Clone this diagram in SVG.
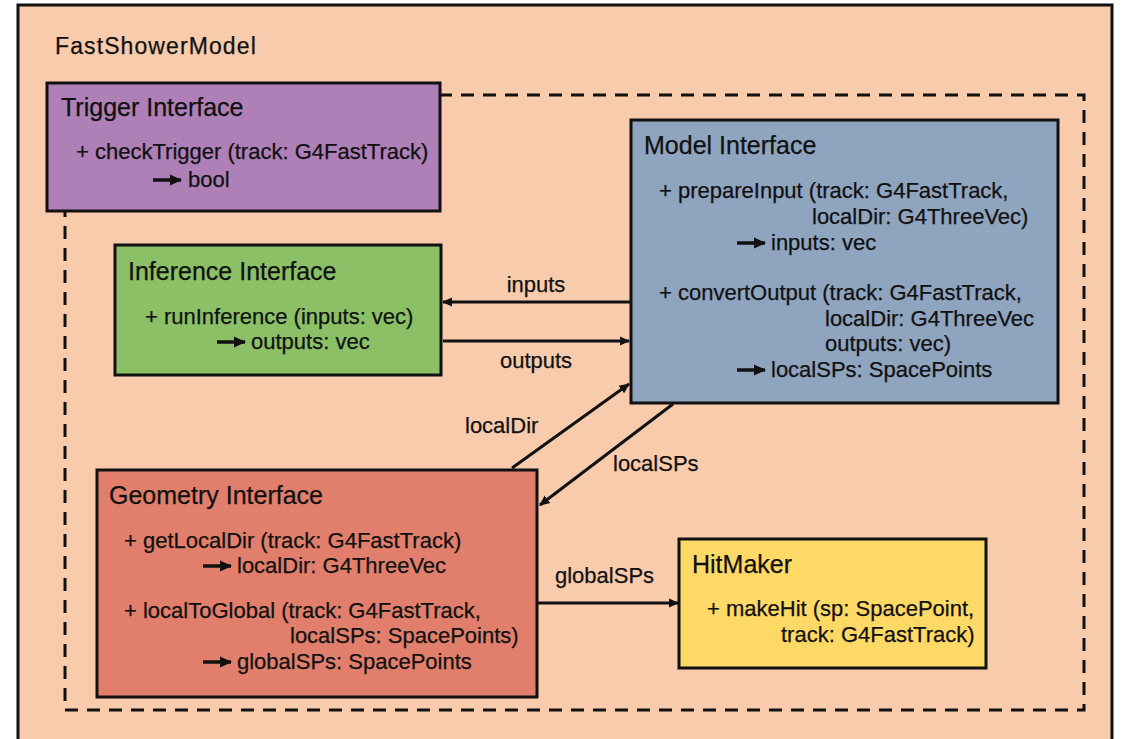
<svg xmlns="http://www.w3.org/2000/svg" width="1123" height="739" viewBox="0 0 1123 739">
<style>
text{font-family:"Liberation Sans",Arial,sans-serif;fill:#111;stroke:#111;stroke-width:0.25}
.t{font-size:25px}
.b{font-size:22px}
.l{font-size:22px}
.box{stroke:#111;stroke-width:3}
.c{stroke:#111;stroke-width:3;fill:none}
.ia{stroke:#111;stroke-width:3.5}
</style>
<defs>
<marker id="ah" viewBox="0 0 10 10" refX="9" refY="5" markerWidth="3.5" markerHeight="3.5" orient="auto" markerUnits="strokeWidth">
<path d="M0,0.5 L10,5 L0,9.5 z" fill="#111"/>
</marker>
</defs>
<rect x="0" y="0" width="1123" height="739" fill="#fff"/>
<g id="outer">
<rect x="18" y="5" width="1094" height="750" fill="#f8cbad" class="box"/>
<text x="55" y="54" style="font-size:23px;letter-spacing:1.1px">FastShowerModel</text>
</g>
<g id="dashed">
<rect x="65" y="95" width="1019" height="615" fill="none" stroke="#111" stroke-width="3" stroke-dasharray="13,9"/>
</g>
<g id="trigger">
<rect x="47" y="83" width="393" height="128" fill="#ae80b7" class="box"/>
<text x="61" y="116" class="t">Trigger Interface</text>
<text x="76" y="159" class="b">+ checkTrigger (track: G4FastTrack)</text>
<line x1="153" y1="180" x2="181" y2="180" class="ia" marker-end="url(#ah)"/>
<text x="188" y="187" class="b">bool</text>
</g>
<g id="model">
<rect x="631" y="120" width="427" height="283" fill="#8fa4bf" class="box"/>
<text x="644" y="154" class="t">Model Interface</text>
<text x="659" y="198" class="b">+ prepareInput (track: G4FastTrack,</text>
<text x="812" y="224" class="b">localDir: G4ThreeVec)</text>
<line x1="737" y1="243" x2="765" y2="243" class="ia" marker-end="url(#ah)"/>
<text x="771" y="250" class="b">inputs: vec</text>
<text x="659" y="300" class="b">+ convertOutput (track: G4FastTrack,</text>
<text x="825" y="326" class="b">localDir: G4ThreeVec</text>
<text x="825" y="351" class="b">outputs: vec)</text>
<line x1="737" y1="370" x2="765" y2="370" class="ia" marker-end="url(#ah)"/>
<text x="771" y="377" class="b">localSPs: SpacePoints</text>
</g>
<g id="inference">
<rect x="115" y="245" width="326" height="130" fill="#8bc067" class="box"/>
<text x="128" y="280" class="t">Inference Interface</text>
<text x="145" y="324" class="b">+ runInference (inputs: vec)</text>
<line x1="217" y1="342" x2="245" y2="342" class="ia" marker-end="url(#ah)"/>
<text x="251" y="349" class="b">outputs: vec</text>
</g>
<g id="geometry">
<rect x="97" y="470" width="440" height="227" fill="#e17f6c" class="box"/>
<text x="109" y="504" class="t">Geometry Interface</text>
<text x="124" y="548" class="b">+ getLocalDir (track: G4FastTrack)</text>
<line x1="203" y1="566" x2="231" y2="566" class="ia" marker-end="url(#ah)"/>
<text x="237" y="573" class="b">localDir: G4ThreeVec</text>
<text x="124" y="618" class="b">+ localToGlobal (track: G4FastTrack,</text>
<text x="290" y="643" class="b">localSPs: SpacePoints)</text>
<line x1="203" y1="662" x2="231" y2="662" class="ia" marker-end="url(#ah)"/>
<text x="237" y="669" class="b">globalSPs: SpacePoints</text>
</g>
<g id="hitmaker">
<rect x="679" y="539" width="307" height="129" fill="#ffd966" class="box"/>
<text x="692" y="573" class="t">HitMaker</text>
<text x="707" y="616" class="b">+ makeHit (sp: SpacePoint,</text>
<text x="781" y="642" class="b">track: G4FastTrack)</text>
</g>
<g id="connectors">
<line x1="630" y1="302" x2="443" y2="302" class="c" marker-end="url(#ah)"/>
<text x="536" y="292" class="l" text-anchor="middle">inputs</text>
<line x1="443" y1="341" x2="629" y2="341" class="c" marker-end="url(#ah)"/>
<text x="536" y="368" class="l" text-anchor="middle">outputs</text>
<line x1="512" y1="468" x2="629" y2="384" class="c" marker-end="url(#ah)"/>
<text x="465" y="433" class="l">localDir</text>
<line x1="673" y1="404" x2="540" y2="505" class="c" marker-end="url(#ah)"/>
<text x="613" y="471" class="l">localSPs</text>
<line x1="538" y1="603" x2="678" y2="603" class="c" marker-end="url(#ah)"/>
<text x="555" y="583" class="l">globalSPs</text>
</g>
</svg>
